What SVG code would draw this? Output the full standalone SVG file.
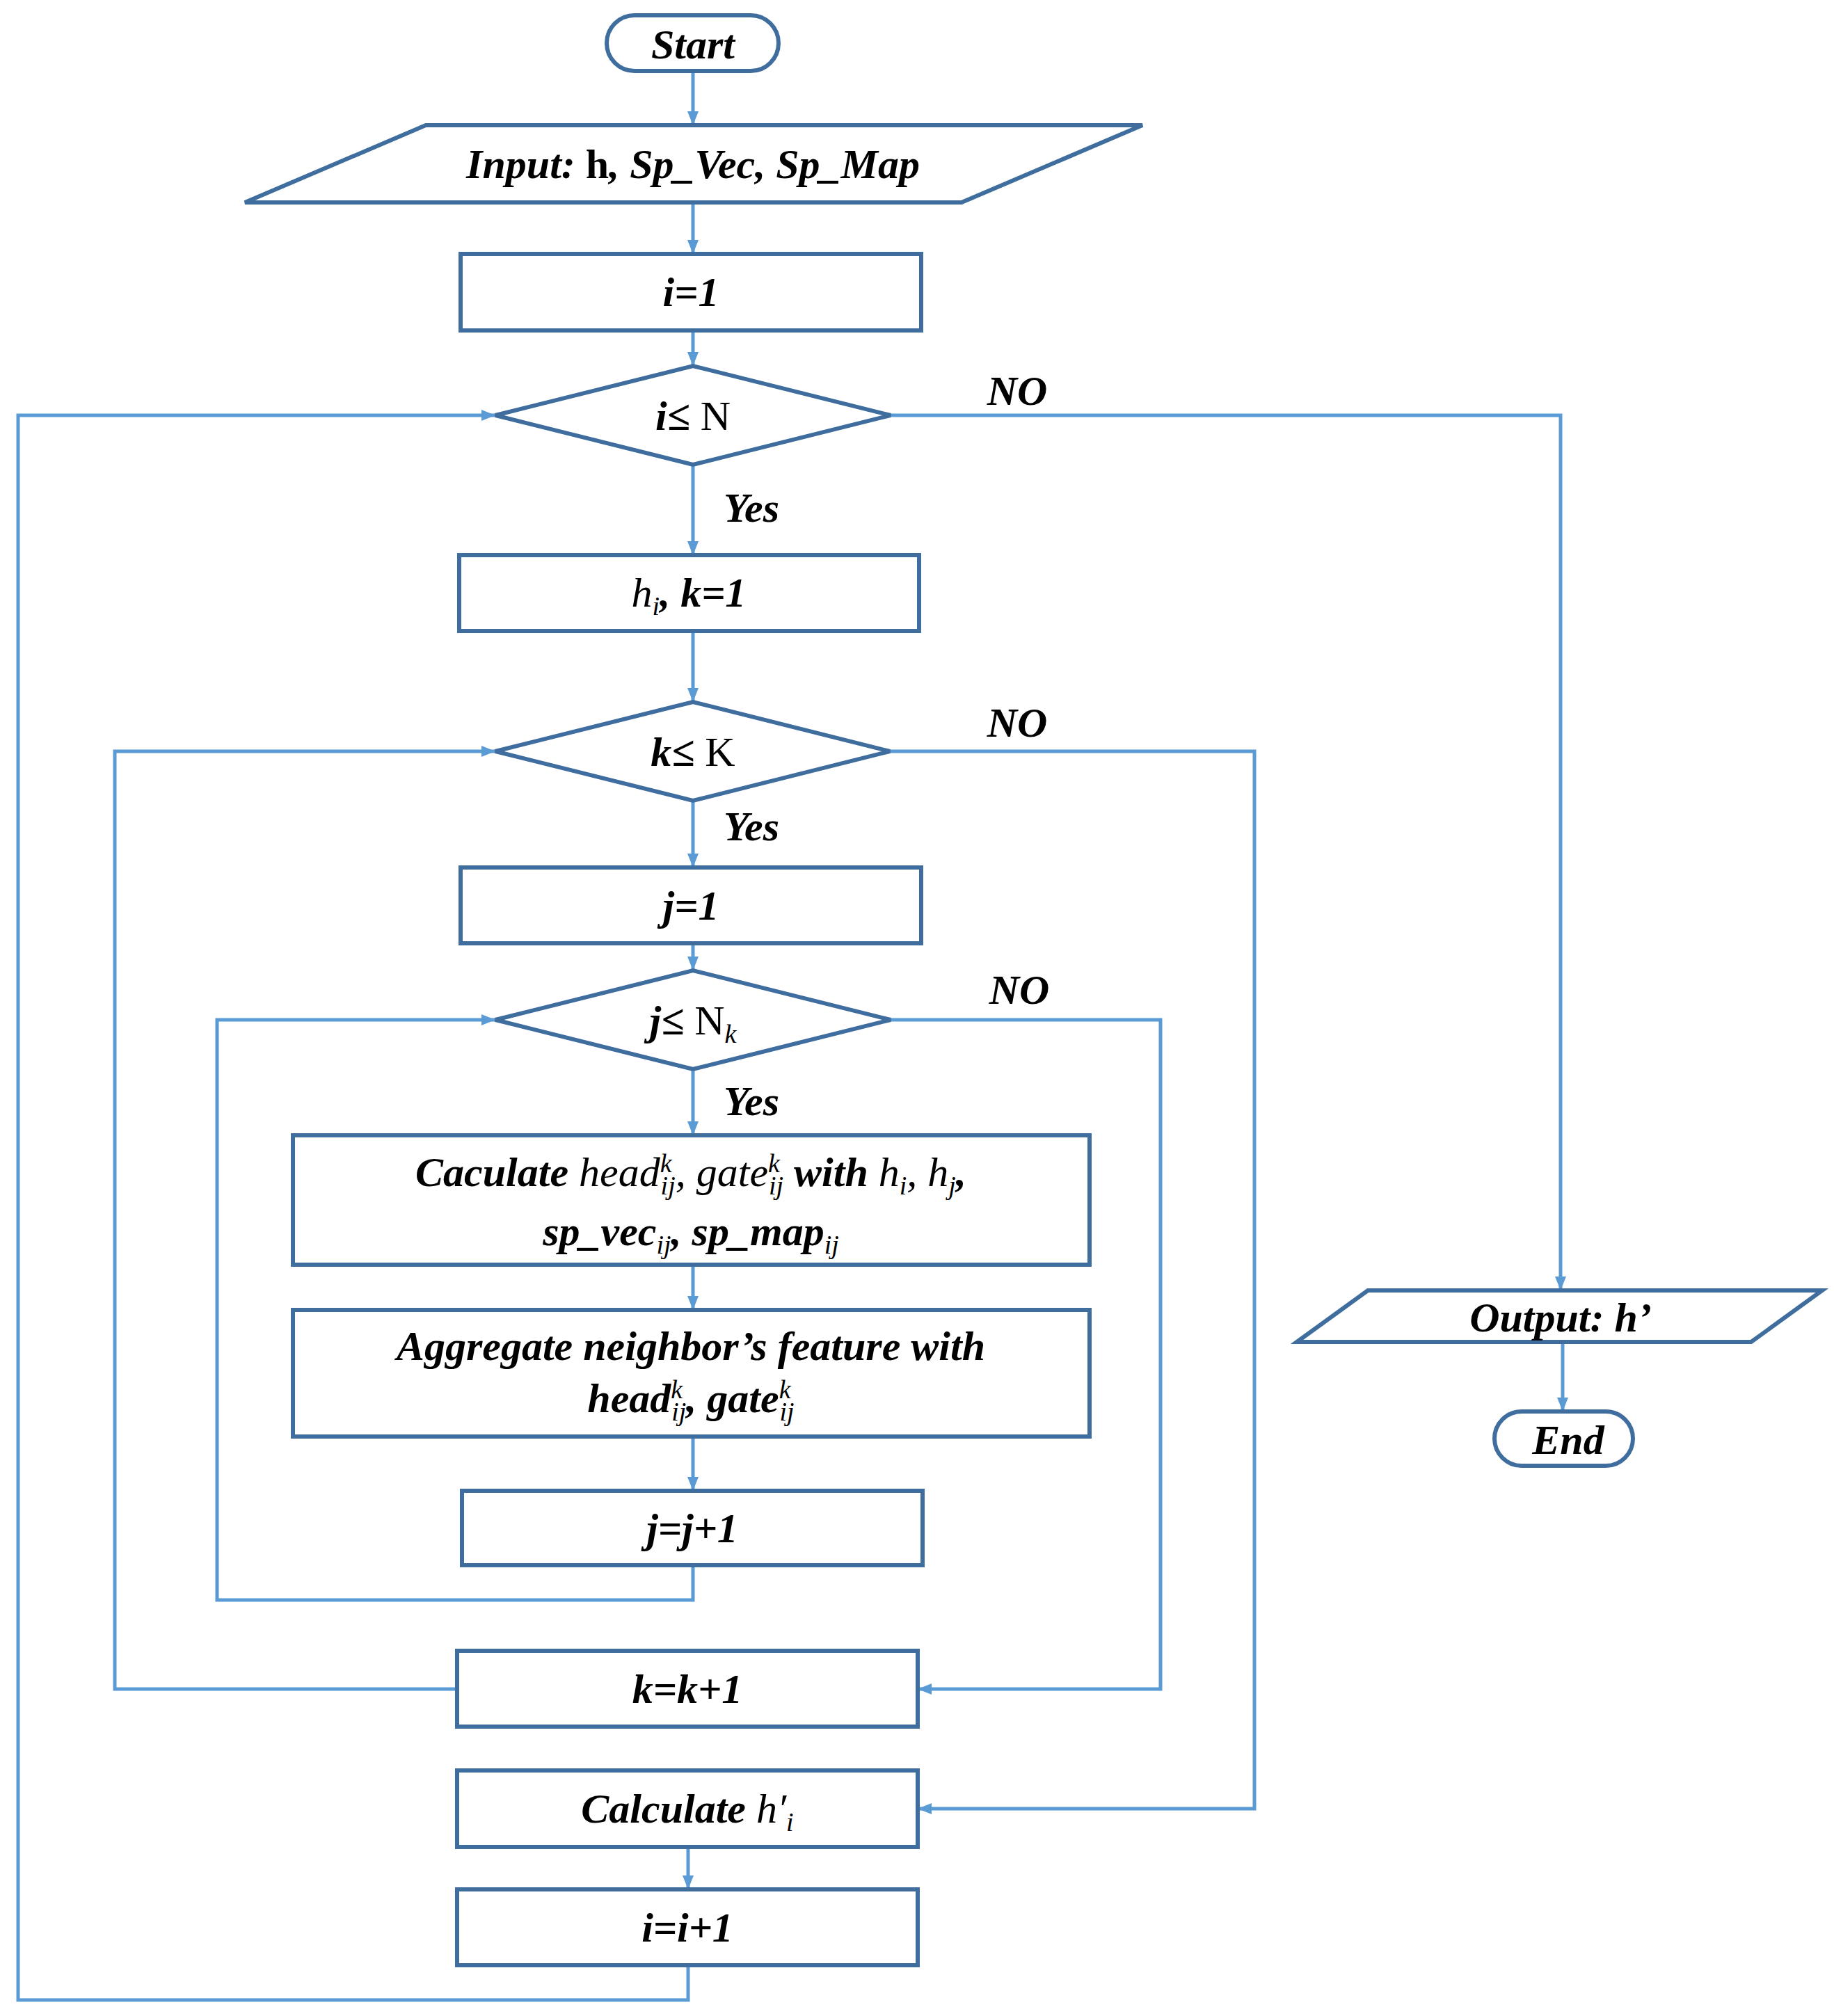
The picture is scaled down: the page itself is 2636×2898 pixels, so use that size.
<svg xmlns="http://www.w3.org/2000/svg" width="2636" height="2898" viewBox="0 0 2636 2898">
<style>
.n{fill:#fff;stroke:#3F6E9E;stroke-width:6}
.c{fill:none;stroke:#5B9BD5;stroke-width:5}
text{font-family:"Liberation Serif",serif;font-style:italic;font-weight:bold;font-size:60px;text-anchor:middle;fill:#000}
.s{font-size:38px;font-weight:normal}
</style>
<defs><marker id="b" markerWidth="22" markerHeight="22" refX="20" refY="11" orient="auto" markerUnits="userSpaceOnUse"><path d="M0,3L20,11L0,19z" fill="#5B9BD5"/></marker></defs>
<rect width="2636" height="2898" fill="#fff"/>
<g id="connectors">
<path class="c" marker-end="url(#b)" d="M996,102V180"/>
<path class="c" marker-end="url(#b)" d="M996,291V365"/>
<path class="c" marker-end="url(#b)" d="M996,475V526"/>
<path class="c" marker-end="url(#b)" d="M996,668V798"/>
<path class="c" marker-end="url(#b)" d="M996,907V1009"/>
<path class="c" marker-end="url(#b)" d="M996,1151V1247"/>
<path class="c" marker-end="url(#b)" d="M996,1356V1395"/>
<path class="c" marker-end="url(#b)" d="M996,1537V1632"/>
<path class="c" marker-end="url(#b)" d="M996,1818V1883"/>
<path class="c" marker-end="url(#b)" d="M996,2065V2143"/>
<path class="c" marker-end="url(#b)" d="M989,2655V2716"/>
<path class="c" marker-end="url(#b)" d="M989,2825V2875H26V597H712"/>
<path class="c" marker-end="url(#b)" d="M1280,597H2243V1855"/>
<path class="c" marker-end="url(#b)" d="M2246,1929V2029"/>
<path class="c" marker-end="url(#b)" d="M657,2428H165V1080H712"/>
<path class="c" marker-end="url(#b)" d="M1279,1080H1803V2600H1319"/>
<path class="c" marker-end="url(#b)" d="M996,2250V2300H312V1466H712"/>
<path class="c" marker-end="url(#b)" d="M1280,1466H1668V2428H1319"/>
<text x="1462" y="582">NO</text>
<text x="1462" y="1059">NO</text>
<text x="1465" y="1443">NO</text>
<text x="1080" y="750">Yes</text>
<text x="1080" y="1208">Yes</text>
<text x="1080" y="1603">Yes</text>
</g>
<g id="start"><rect class="n" x="872" y="22" width="247" height="80" rx="40"/><text x="996" y="84">Start</text></g>
<g id="input"><polygon class="n" points="352,291 612,180 1642,180 1382,291"/><text x="996" y="256">Input:  <tspan font-style="normal">h</tspan>, Sp_Vec, Sp_Map</text></g>
<g id="i1"><rect class="n" x="662" y="365" width="662" height="110"/><text x="993" y="440">i=1</text></g>
<g id="dN"><polygon class="n" points="712,597 996,526 1280,597 996,668"/><text x="996" y="618">i≤ <tspan font-style="normal" font-weight="normal">N</tspan></text></g>
<g id="hk"><rect class="n" x="660" y="798" width="661" height="109"/><text x="990" y="872"><tspan font-weight="normal">h</tspan><tspan class="s" dy="12">i</tspan><tspan dy="-12">, k=1</tspan></text></g>
<g id="dK"><polygon class="n" points="712,1080 996,1009 1279,1080 996,1151"/><text x="996" y="1101">k≤ <tspan font-style="normal" font-weight="normal">K</tspan></text></g>
<g id="j1"><rect class="n" x="662" y="1247" width="662" height="109"/><text x="993" y="1322">j=1</text></g>
<g id="dJ"><polygon class="n" points="712,1466 996,1395 1280,1466 996,1537"/><text x="996" y="1487">j≤ <tspan font-style="normal" font-weight="normal">N</tspan><tspan class="s" dy="12">k</tspan></text></g>
<g id="calc"><rect class="n" x="421" y="1632" width="1145" height="186"/>
<text x="993" y="1705">Caculate <tspan font-weight="normal">head</tspan><tspan class="s" dy="-20">k</tspan><tspan class="s" dx="-16" dy="32">ij</tspan><tspan dy="-12" font-weight="normal">, gate</tspan><tspan class="s" dy="-20">k</tspan><tspan class="s" dx="-16" dy="32">ij</tspan><tspan dy="-12"> with </tspan><tspan font-weight="normal">h</tspan><tspan class="s" dy="12">i</tspan><tspan dy="-12" font-weight="normal">, h</tspan><tspan class="s" dy="12">j</tspan><tspan dy="-12">,</tspan></text>
<text x="993" y="1790" font-weight="normal">sp_vec<tspan class="s" dy="12">ij</tspan><tspan dy="-12">, sp_map</tspan><tspan class="s" dy="12">ij</tspan></text></g>
<g id="agg"><rect class="n" x="421" y="1883" width="1145" height="182"/>
<text x="993" y="1955">Aggregate neighbor’s feature with</text>
<text x="993" y="2030" font-weight="normal">head<tspan class="s" dy="-20">k</tspan><tspan class="s" dx="-16" dy="32">ij</tspan><tspan dy="-12">, gate</tspan><tspan class="s" dy="-20">k</tspan><tspan class="s" dx="-16" dy="32">ij</tspan></text></g>
<g id="jj"><rect class="n" x="664" y="2143" width="662" height="107"/><text x="995" y="2217">j=j+1</text></g>
<g id="kk"><rect class="n" x="657" y="2373" width="662" height="109"/><text x="988" y="2448">k=k+1</text></g>
<g id="ch"><rect class="n" x="657" y="2545" width="662" height="110"/><text x="988" y="2620">Calculate  <tspan font-weight="normal">h′</tspan><tspan class="s" dy="12" font-weight="bold">i</tspan></text></g>
<g id="ii"><rect class="n" x="657" y="2716" width="662" height="109"/><text x="988" y="2791">i=i+1</text></g>
<g id="output"><polygon class="n" points="1864,1929 1966,1855 2619,1855 2517,1929"/><text x="2243" y="1914">Output:  h’</text></g>
<g id="end"><rect class="n" x="2148" y="2029" width="199" height="78" rx="39"/><text x="2254" y="2090">End</text></g>
</svg>
